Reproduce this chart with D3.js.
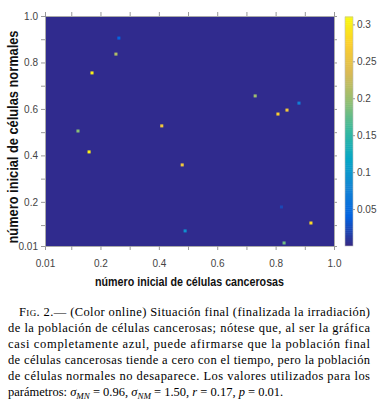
<!doctype html>
<html lang="es">
<head>
  <meta charset="utf-8">
  <title>Fig. 2</title>
  <script src="https://cdn.jsdelivr.net/npm/d3@7"></script>
  <style>
    body { margin: 0; background: #fff; }
    svg { display: block; }
    .tick text { font-family: "Liberation Sans", Arial, sans-serif; font-size: 10px; fill: #444; }
    .tick line { stroke: #999; }
    .lab { font-family: "Liberation Sans", Arial, sans-serif; font-weight: bold; fill: #111; }
    .cap { font-family: "Liberation Serif", "DejaVu Serif", serif; font-size: 12.5px; fill: #000; }
  </style>
</head>
<body>
<svg id="fig" width="379" height="402"></svg>
<script>
  'use strict';

  // initial cancer cells (x), initial normal cells (y), final cancer population (colour)
  var cancerInit = [0.253, 0.171, 0.263, 0.123, 0.41, 0.73, 0.808, 0.839, 0.88, 0.161, 0.48, 0.49, 0.921, 0.829, 0.82];
  var normalInit = [0.836, 0.755, 0.905, 0.505, 0.527, 0.656, 0.578, 0.595, 0.625, 0.415, 0.359, 0.075, 0.109, 0.023, 0.178];
  var finalPop   = [0.21, 0.30, 0.04, 0.19, 0.26, 0.20, 0.27, 0.26, 0.07, 0.30, 0.26, 0.09, 0.28, 0.18, 0.02];

  var xTicks = [0.01, 0.1, 0.2, 0.3, 0.4, 0.5, 0.6, 0.7, 0.8, 0.9, 1.0];
  var xLabels = ["0.01", "", "0.2", "", "0.4", "", "0.6", "", "0.8", "", "1.0"];
  var cbTicks = [0.05, 0.1, 0.15, 0.2, 0.25, 0.3];
  var cbLabels = ["0.05", "0.1", "0.15", "0.2", "0.25", "0.3"];
  var parula = ["#352a87", "#0363e1", "#1485d4", "#06a7c6", "#38b99e", "#92bf73", "#d9ba56", "#fcce2e", "#f9fb0e"];

  var captionLines = [
    "(Color online) Situación final (finalizada la irradiación)",
    "de la población de células cancerosas; nótese que, al ser la gráfica",
    "casi completamente azul, puede afirmarse que la población final",
    "de células cancerosas tiende a cero con el tiempo, pero la población",
    "de células normales no desaparece. Los valores utilizados para los"
  ];

  var svg = d3.select("#fig");
  var L = 45, R = 334, T = 16, B = 246;
  var x = d3.scaleLinear().domain([0.01, 1]).range([L, R]);
  var y = d3.scaleLinear().domain([0.01, 1]).range([B, T]);
  var cmax = 0.31;
  var colour = d3.scaleLinear()
    .domain(d3.range(parula.length).map(function(i){ return i * cmax / (parula.length - 1); }))
    .range(parula);

  // background: nearly everything is ~0
  svg.append("rect").attr("x", L).attr("y", T).attr("width", R - L).attr("height", B - T)
    .attr("fill", "#302b8e");

  var cw = 0.0105, ch = 0.013;
  svg.append("g").selectAll("rect").data(finalPop).join("rect")
    .attr("x", function(d, i){ return x(cancerInit[i] - cw / 2); })
    .attr("y", function(d, i){ return y(normalInit[i] + ch / 2); })
    .attr("width", x(cw) - x(0))
    .attr("height", y(0) - y(ch))
    .attr("fill", function(d){ return colour(d); });

  // axes, ticks outward like the original
  function fmt(list, ticks){ return function(d){ return list[ticks.indexOf(d)]; }; }
  svg.append("g").attr("transform", "translate(0," + B + ")")
    .call(d3.axisBottom(x).tickValues(xTicks).tickFormat(fmt(xLabels, xTicks)).tickSize(4).tickPadding(10).tickSizeOuter(0))
    .call(function(g){ g.select(".domain").attr("stroke", "#aaa"); });
  svg.append("g").attr("transform", "translate(0," + T + ")")
    .call(d3.axisTop(x).tickValues(xTicks).tickFormat("").tickSize(4).tickSizeOuter(0))
    .call(function(g){ g.select(".domain").attr("stroke", "#aaa"); });
  svg.append("g").attr("transform", "translate(" + L + ",0)")
    .call(d3.axisLeft(y).tickValues(xTicks).tickFormat(fmt(xLabels, xTicks)).tickSize(4).tickPadding(3).tickSizeOuter(0))
    .call(function(g){ g.select(".domain").attr("stroke", "#aaa"); });
  svg.append("g").attr("transform", "translate(" + R + ",0)")
    .call(d3.axisRight(y).tickValues(xTicks).tickFormat("").tickSize(3).tickSizeOuter(0))
    .call(function(g){ g.select(".domain").attr("stroke", "#aaa"); });

  // colour bar
  var cbx = 345, cbw = 8;
  var cy = d3.scaleLinear().domain([0, cmax]).range([B, T + 1]);
  var steps = d3.range(0, cmax, cmax / 120);
  svg.append("g").selectAll("rect").data(steps).join("rect")
    .attr("x", cbx).attr("width", cbw)
    .attr("y", function(d){ return cy(d + cmax / 120) - 0.5; })
    .attr("height", cy(0) - cy(cmax / 120) + 0.5)
    .attr("fill", function(d){ return colour(d); });
  svg.append("rect").attr("x", cbx).attr("y", cy(cmax)).attr("width", cbw).attr("height", cy(0) - cy(cmax))
    .attr("fill", "none").attr("stroke", "#bbb").attr("stroke-width", 0.6);
  svg.append("g").attr("transform", "translate(" + (cbx + cbw) + ",0)")
    .call(d3.axisRight(cy).tickValues(cbTicks).tickFormat(fmt(cbLabels, cbTicks)).tickSize(2).tickPadding(2).tickSizeOuter(0))
    .call(function(g){ g.select(".domain").remove(); });

  // axis titles
  svg.append("text").attr("class", "lab").attr("x", (L + R) / 2).attr("y", 286)
    .attr("text-anchor", "middle").attr("font-size", 13).attr("textLength", 189).attr("lengthAdjust", "spacingAndGlyphs")
    .text("número inicial de células cancerosas");
  svg.append("text").attr("class", "lab").attr("transform", "translate(18," + 137 + ") rotate(-90)")
    .attr("text-anchor", "middle").attr("font-size", 14.5).attr("textLength", 213).attr("lengthAdjust", "spacingAndGlyphs")
    .text("número inicial de células normales");

  // caption
  var cap = svg.append("g").attr("class", "cap");
  var first = cap.append("text").attr("x", 19).attr("y", 316).attr("textLength", 351).attr("lengthAdjust", "spacing");
  first.append("tspan").style("font-variant", "small-caps").text("Fig. 2.— ");
  first.append("tspan").text(captionLines[0]);
  captionLines.slice(1).forEach(function(line, i){
    cap.append("text").attr("x", 8).attr("y", 332 + i * 16).attr("textLength", 362).attr("lengthAdjust", "spacing").text(line);
  });
  var last = cap.append("text").attr("x", 8).attr("y", 396);
  last.append("tspan").text("parámetros: ");
  last.append("tspan").style("font-style", "italic").text("σ");
  last.append("tspan").style("font-style", "italic").attr("font-size", 9).attr("dy", 3).text("MN");
  last.append("tspan").attr("dy", -3).text(" = 0.96, ");
  last.append("tspan").style("font-style", "italic").text("σ");
  last.append("tspan").style("font-style", "italic").attr("font-size", 9).attr("dy", 3).text("NM");
  last.append("tspan").attr("dy", -3).text(" = 1.50, ");
  last.append("tspan").style("font-style", "italic").text("r");
  last.append("tspan").text(" = 0.17, ");
  last.append("tspan").style("font-style", "italic").text("p");
  last.append("tspan").text(" = 0.01.");
</script>
</body>
</html>
